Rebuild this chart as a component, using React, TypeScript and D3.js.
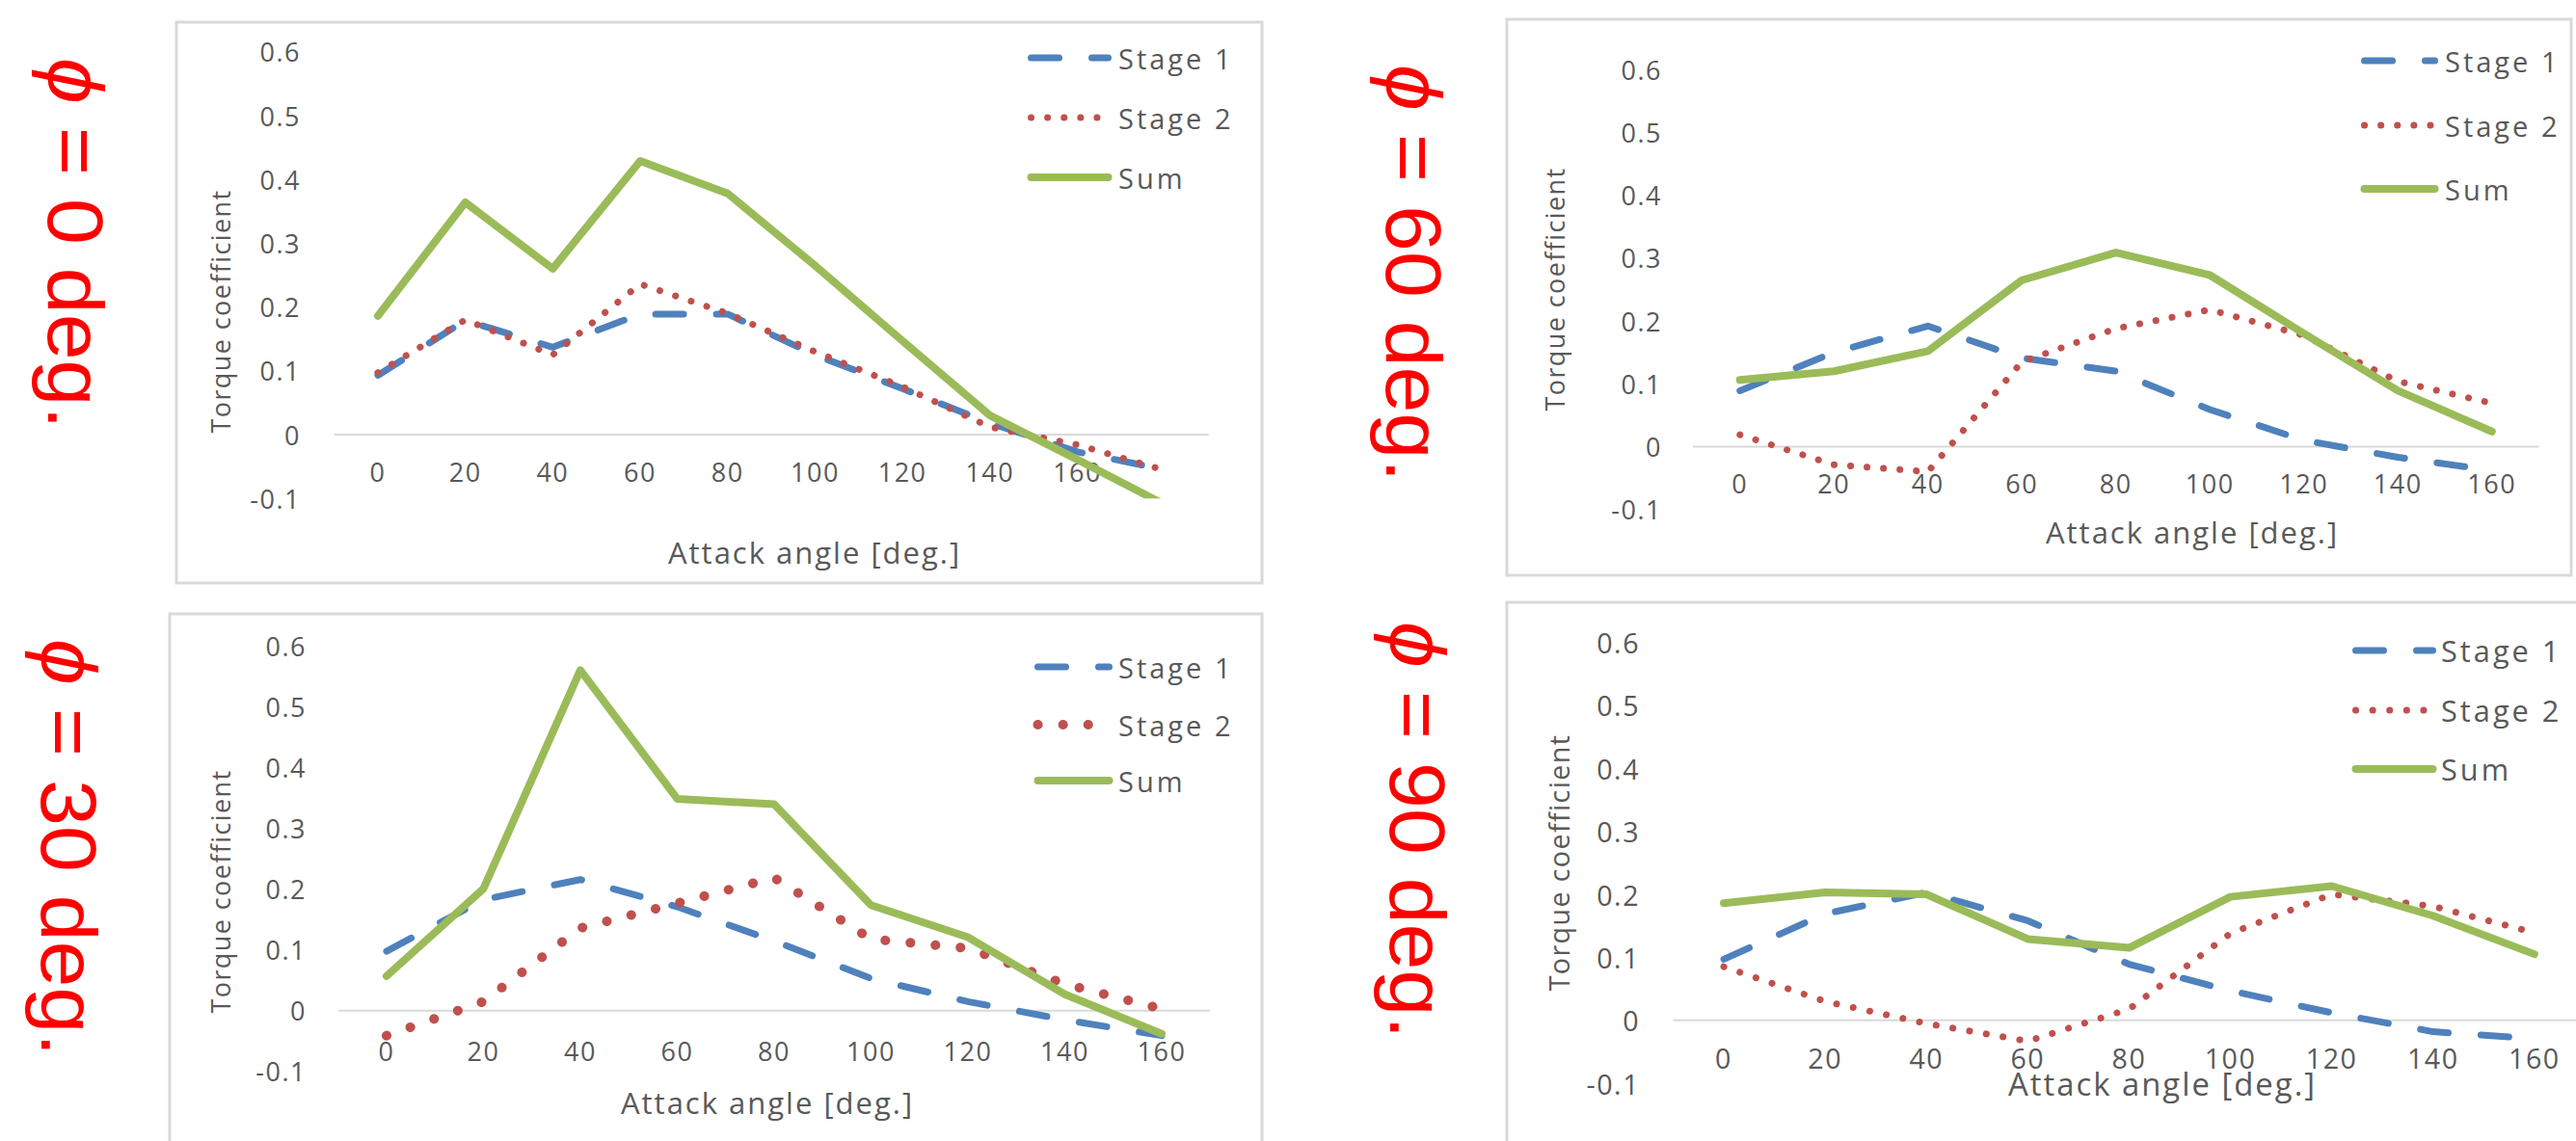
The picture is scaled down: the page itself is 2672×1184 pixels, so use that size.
import React from 'react';
import * as d3 from 'd3';

// attack angle categories
const ANGLES = ['0', '20', '40', '60', '80', '100', '120', '140', '160'];
// the phi = 0 sheet has one more category with an empty label
const ANGLES_PHI0 = [...ANGLES, ''];

const Y_TICKS = [0.6, 0.5, 0.4, 0.3, 0.2, 0.1, 0, -0.1];
const Y_TICK_LABELS = ['0.6', '0.5', '0.4', '0.3', '0.2', '0.1', '0', '-0.1'];

const SERIES_NAMES = ['Stage 1', 'Stage 2', 'Sum'];

// phi = 0 deg.
const PHI0_STAGE1 = [0.093, 0.179, 0.137, 0.189, 0.189, 0.125, 0.072, 0.018, -0.027, -0.055];
const PHI0_STAGE2 = [0.097, 0.18, 0.125, 0.236, 0.19, 0.13, 0.075, 0.012, -0.016, -0.056];
const PHI0_SUM = [0.186, 0.364, 0.26, 0.429, 0.378, 0.265, 0.147, 0.03, -0.039, -0.11];

// phi = 60 deg.
const PHI60_STAGE1 = [0.089, 0.15, 0.192, 0.141, 0.12, 0.059, 0.01, -0.017, -0.038];
const PHI60_STAGE2 = [0.019, -0.029, -0.04, 0.135, 0.188, 0.218, 0.177, 0.104, 0.069];
const PHI60_SUM = [0.106, 0.12, 0.152, 0.265, 0.309, 0.273, 0.18, 0.089, 0.024];

// phi = 30 deg.
const PHI30_STAGE1 = [0.098, 0.183, 0.216, 0.171, 0.115, 0.053, 0.015, -0.015, -0.041];
const PHI30_STAGE2 = [-0.041, 0.015, 0.136, 0.177, 0.219, 0.118, 0.103, 0.044, 0.003];
const PHI30_SUM = [0.057, 0.201, 0.561, 0.349, 0.34, 0.174, 0.121, 0.027, -0.038];

// phi = 90 deg.
const PHI90_STAGE1 = [0.097, 0.169, 0.203, 0.158, 0.089, 0.047, 0.012, -0.018, -0.029];
const PHI90_STAGE2 = [0.085, 0.03, -0.005, -0.033, 0.018, 0.138, 0.2, 0.181, 0.139];
const PHI90_SUM = [0.186, 0.203, 0.2, 0.129, 0.115, 0.196, 0.213, 0.166, 0.105];

const BLUE = '#4F81BD';
const RED = '#C0504D';
const GREEN = '#9BBB59';
const GRAY_TEXT = '#595959';
const GRID = '#D9D9D9';

// positions of each sheet in the picture
const PANELS = [
  {
    id: 'phi0', tag: '0', cats: ANGLES_PHI0,
    series: [PHI0_STAGE1, PHI0_STAGE2, PHI0_SUM],
    frame: [183, 23, 1309, 605],
    axisX: [346.6, 1253.6], axisY: [517.2, 53.8],
    yTickX: 312, xTickY: 489, xTitle: [845, 573], yTitle: [228, 323],
    legend: { x1: 1066, x2: 1153, tx: 1160, ys: [60, 122, 184] },
    tagPos: [50, 60], fs: 1, dot: [7, 17],
  },
  {
    id: 'phi60', tag: '60', cats: ANGLES,
    series: [PHI60_STAGE1, PHI60_STAGE2, PHI60_SUM],
    frame: [1563, 20, 2667, 597],
    axisX: [1756, 2633.5], axisY: [528.6, 72.4],
    yTickX: 1724, xTickY: 501, xTitle: [2274, 552], yTitle: [1612, 300],
    legend: { x1: 2449, x2: 2529, tx: 2536, ys: [63, 130, 196] },
    tagPos: [1438, 67], fs: 1, dot: [7, 17],
  },
  {
    id: 'phi30', tag: '30', cats: ANGLES,
    series: [PHI30_STAGE1, PHI30_STAGE2, PHI30_SUM],
    frame: [176, 637, 1309, 1300],
    axisX: [350.7, 1255.2], axisY: [1111.8, 670.8],
    yTickX: 318, xTickY: 1090, xTitle: [796, 1144], yTitle: [228, 925],
    legend: { x1: 1073, x2: 1154, tx: 1160, ys: [692, 752, 810] },
    tagPos: [43, 663], fs: 1, dot: [10, 26],
  },
  {
    id: 'phi90', tag: '90', cats: ANGLES,
    series: [PHI90_STAGE1, PHI90_STAGE2, PHI90_SUM],
    frame: [1563, 625, 2720, 1300],
    axisX: [1735.5, 2681.4], axisY: [1124.2, 666.4],
    yTickX: 1701, xTickY: 1097, xTitle: [2243, 1124], yTitle: [1616, 895],
    legend: { x1: 2440, x2: 2527, tx: 2532, ys: [675, 737, 798] },
    tagPos: [1442, 645], fs: 1.06, dot: [7, 17.5],
  },
];

function seriesStyle(k, dot) {
  if (k === 0) return { stroke: BLUE, strokeWidth: 7, strokeDasharray: '29 34' };
  if (k === 1) return { stroke: RED, strokeWidth: dot[0], strokeDasharray: `0.1 ${dot[1]}` };
  return { stroke: GREEN, strokeWidth: 8 };
}

function Panel({ p }) {
  const x = d3.scaleBand().domain(p.cats.map((_, i) => String(i))).range(p.axisX).padding(0);
  const y = d3.scaleLinear().domain([-0.1, 0.6]).range(p.axisY);
  const cx = (i) => x(String(i)) + x.bandwidth() / 2;
  const line = d3.line().x((d, i) => cx(i)).y((d) => y(d));
  const [fx1, fy1, fx2, fy2] = p.frame;
  const font = 'Open Sans, sans-serif';

  return (
    <g>
      <rect x={fx1} y={fy1} width={fx2 - fx1} height={fy2 - fy1} fill="#fff" stroke={GRID} strokeWidth={3} />
      <defs>
        <clipPath id={`clip-${p.id}`}>
          <rect x={fx1} y={fy1} width={fx2 - fx1} height={y(-0.1) - fy1} />
        </clipPath>
      </defs>

      {/* zero line */}
      <line x1={p.axisX[0]} x2={p.axisX[1]} y1={y(0)} y2={y(0)} stroke={GRID} strokeWidth={2} />

      {/* y tick labels */}
      {Y_TICKS.map((t, i) => (
        <text key={t} x={p.yTickX} y={y(t)} textAnchor="end" dominantBaseline="central"
          fontFamily={font} fontSize={27 * p.fs} letterSpacing={1.5} fill={GRAY_TEXT}>
          {Y_TICK_LABELS[i]}
        </text>
      ))}

      {/* category labels */}
      {p.cats.map((c, i) => (c ? (
        <text key={i} x={cx(i)} y={p.xTickY} textAnchor="middle" dominantBaseline="central"
          fontFamily={font} fontSize={27 * p.fs} letterSpacing={1.5} fill={GRAY_TEXT}>
          {c}
        </text>
      ) : null))}

      <text x={p.xTitle[0]} y={p.xTitle[1]} textAnchor="middle" dominantBaseline="central"
        fontFamily={font} fontSize={31 * p.fs} letterSpacing={2} fill={GRAY_TEXT}>
        Attack angle [deg.]
      </text>
      <text transform={`translate(${p.yTitle[0]},${p.yTitle[1]}) rotate(-90)`} textAnchor="middle"
        dominantBaseline="central" fontFamily={font} fontSize={27 * p.fs} letterSpacing={1.4} fill={GRAY_TEXT}>
        Torque coefficient
      </text>

      <g clipPath={`url(#clip-${p.id})`}>
        {p.series.map((vals, k) => (
          <path key={k} d={line(vals)} fill="none" strokeLinecap="round" strokeLinejoin="round"
            {...seriesStyle(k, p.dot)} />
        ))}
      </g>

      {/* legend */}
      {SERIES_NAMES.map((name, k) => (
        <g key={name}>
          <line x1={p.legend.x1 + 3.5} x2={p.legend.x2 - 3.5} y1={p.legend.ys[k]} y2={p.legend.ys[k]}
            strokeLinecap="round" {...seriesStyle(k, p.dot)} />
          <text x={p.legend.tx} y={p.legend.ys[k]} dominantBaseline="central"
            fontFamily={font} fontSize={29 * p.fs} letterSpacing={3} fill={GRAY_TEXT}>
            {name}
          </text>
        </g>
      ))}

      {/* red sheet tag, reads top to bottom */}
      <text transform={`translate(${p.tagPos[0]},${p.tagPos[1]}) rotate(90) scale(1.05,1)`}
        fontFamily="Liberation Sans, Arial, sans-serif" fontSize={82} fill="#FF0000">
        <tspan fontStyle="italic">ϕ</tspan>
        {` = ${p.tag} deg.`}
      </text>
    </g>
  );
}

export default function App() {
  return (
    <svg width={2672} height={1184} viewBox="0 0 2672 1184"
      style={{ position: 'absolute', left: 0, top: 0, background: '#fff', display: 'block' }}>
      <rect width={2672} height={1184} fill="#fff" />
      {PANELS.map((p) => <Panel key={p.id} p={p} />)}
    </svg>
  );
}
